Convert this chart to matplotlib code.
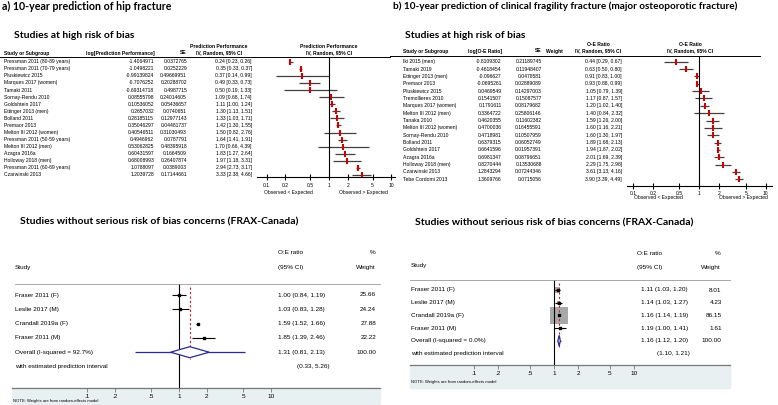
import matplotlib
matplotlib.use('Agg')
import numpy as np
import matplotlib.pyplot as plt
from matplotlib.lines import Line2D
from matplotlib.patches import Rectangle, Polygon

# ---- a) hip fracture, studies at high risk of bias (RevMan)
hip_names = ['Pressman 2011 (80-89 years)', 'Pressman 2011 (70-79 years)', 'Pluskiewicz 2015',
             'Marques 2017 (women)', 'Tamaki 2011', 'Sornay-Rendu 2010', 'Goldshtein 2017',
             'Ettinger 2013 (men)', 'Bolland 2011', 'Premaor 2013', 'Melton III 2012 (women)',
             'Pressman 2011 (50-59 years)', 'Melton III 2012 (men)', 'Azagra 2016a',
             'Holloway 2018 (men)', 'Pressman 2011 (60-69 years)', 'Czarwinski 2013']
hip_log = [-1.4064971, -1.0498221, -0.99139824, -0.7076252, -0.69314718, 0.08555798, 0.10536052,
           0.2657032, 0.28185115, 0.35046297, 0.40546511, 0.4946962, 0.53062825, 0.60431597,
           0.68008993, 1.0788097, 1.2039728]
hip_se = [0.0372765, 0.0252229, 0.49669951, 0.20288702, 0.4987715, 0.24014605, 0.05436657,
          0.0740651, 0.12977143, 0.04481737, 0.31030493, 0.0787791, 0.48395918, 0.1664509,
          0.26407874, 0.0389003, 0.17144661]
hip_est = [0.24, 0.35, 0.37, 0.49, 0.50, 1.09, 1.11, 1.30, 1.33, 1.42, 1.50, 1.64, 1.70, 1.83, 1.97, 2.94, 3.33]
hip_lo = [0.23, 0.33, 0.14, 0.33, 0.19, 0.68, 1.00, 1.13, 1.03, 1.30, 0.82, 1.41, 0.66, 1.27, 1.18, 2.73, 2.38]
hip_hi = [0.26, 0.37, 0.99, 0.73, 1.33, 1.74, 1.24, 1.51, 1.71, 1.55, 2.76, 1.91, 4.39, 2.64, 3.31, 3.17, 4.66]

# ---- b) major osteoporotic fracture, studies at high risk of bias (RevMan)
mof_names = ['Iki 2015 (men)', 'Tamaki 2019', 'Ettinger 2013 (men)', 'Premaor 2013', 'Pluskiewicz 2015',
             'Tremollieres 2010', 'Marques 2017 (women)', 'Melton III 2012 (men)', 'Tanaka 2010',
             'Melton III 2012 (women)', 'Sornay-Rendu 2010', 'Bolland 2011', 'Goldshtein 2017',
             'Azagra 2016a', 'Holloway 2018 (men)', 'Czarwinski 2013', 'Tebe Cordomi 2013']
mof_log = [-0.8109302, -0.4618454, -0.096627, -0.0695261, 0.0469549, 0.1541507, 0.1791611, 0.3364722,
           0.4620355, 0.4700036, 0.4718981, 0.6379315, 0.6641596, 0.6981347, 0.8270444, 1.2843294, 1.3609766]
mof_se = [0.21189745, 0.11948407, 0.0478581, 0.02889089, 0.14297003, 0.15087577, 0.08179682, 0.25806146,
          0.11602382, 0.16455591, 0.10507959, 0.06052749, 0.01957391, 0.08796651, 0.13530688,
          0.07244346, 0.0715056]
mof_est = [0.44, 0.63, 0.91, 0.93, 1.05, 1.17, 1.20, 1.40, 1.59, 1.60, 1.60, 1.89, 1.94, 2.01, 2.29, 3.61, 3.90]
mof_lo = [0.29, 0.50, 0.83, 0.88, 0.79, 0.87, 1.02, 0.84, 1.26, 1.16, 1.30, 1.68, 1.87, 1.69, 1.75, 3.13, 3.39]
mof_hi = [0.67, 0.80, 1.00, 0.99, 1.39, 1.57, 1.40, 2.32, 2.00, 2.21, 1.97, 2.13, 2.02, 2.39, 2.98, 4.16, 4.49]

# ---- FRAX-Canada (Stata metan)
ca_names = ['Fraser 2011 (F)', 'Leslie 2017 (M)', 'Crandall 2019a (F)', 'Fraser 2011 (M)']
ca_hip_est = [1.00, 1.03, 1.59, 1.85]
ca_hip_lo = [0.84, 0.83, 1.52, 1.39]
ca_hip_hi = [1.19, 1.28, 1.66, 2.46]
ca_hip_wt = [25.66, 24.24, 27.88, 22.22]
ca_hip_overall = [1.31, 0.81, 2.13]
ca_hip_pi = [0.33, 5.26]
ca_hip_i2 = 92.7

ca_mof_est = [1.11, 1.14, 1.16, 1.19]
ca_mof_lo = [1.03, 1.03, 1.14, 1.00]
ca_mof_hi = [1.20, 1.27, 1.19, 1.41]
ca_mof_wt = [8.01, 4.23, 86.15, 1.61]
ca_mof_overall = [1.16, 1.12, 1.20]
ca_mof_pi = [1.10, 1.21]
ca_mof_i2 = 0.0

ticks = [0.1, 0.2, 0.5, 1, 2, 5, 10]

W, H = 778, 405
fig = plt.figure(figsize=(W / 100, H / 100), dpi=100)
SANS = ['Liberation Sans', 'DejaVu Sans']
TITLE = ['Lato', 'DejaVu Sans']


def fx(x):
    return x / W


def fy(y):
    return 1 - y / H


def txt(x, y, s, size=3.6, ha='left', weight='normal', family=SANS, color='black'):
    fig.text(fx(x), fy(y), s, fontsize=size, ha=ha, va='center', fontweight=weight,
             family=family, color=color)


def hline(x0, x1, y, color='black', lw=0.7):
    fig.add_artist(Line2D([fx(x0), fx(x1)], [fy(y), fy(y)], transform=fig.transFigure,
                          color=color, lw=lw))


def log_axes(x0, x1, y0, y1, x_one, decade):
    ax = fig.add_axes([fx(x0), fy(y1), (x1 - x0) / W, (y1 - y0) / H])
    ax.set_xscale('log')
    ax.set_xlim(10 ** ((x0 - x_one) / decade), 10 ** ((x1 - x_one) / decade))
    ax.set_ylim(y1, y0)
    ax.patch.set_alpha(0)
    for s in ['top', 'left', 'right']:
        ax.spines[s].set_visible(False)
    ax.set_yticks([])
    ax.minorticks_off()
    ax.set_xticks(ticks)
    return ax


def revman(cols, rows, names, logs, ses, est, lo, hi, fa):
    x_name, x_log, x_se, x_ci = cols
    y0, step = rows
    for i in range(len(names)):
        y = y0 + i * step
        txt(x_name, y, names[i])
        txt(x_log, y, str(logs[i]), ha='right')
        txt(x_se, y, str(ses[i]), ha='right')
        txt(x_ci, y, f'{est[i]:.2f} [{lo[i]:.2f}, {hi[i]:.2f}]', ha='right')
    x0, x1, x_one, decade, y_top, y_axis, obs_y, obs_l, obs_r = fa
    ax = log_axes(x0, x1, y_top, y_axis, x_one, decade)
    ys = y0 + np.arange(len(names)) * step
    ax.hlines(ys, lo, hi, color='#404040', lw=0.9)
    ax.plot(est, ys, ls='none', marker='|', ms=4.5, mew=1.5, color='#d10000')
    ax.axvline(1, color='black', lw=0.8)
    ax.spines['bottom'].set_linewidth(0.8)
    ax.tick_params(axis='x', direction='inout', length=4, width=0.8, labelsize=3.6, pad=2)
    ax.set_xticklabels([f'{t:g}' for t in ticks], family=SANS)
    txt(obs_l, obs_y, 'Observed < Expected', ha='center')
    txt(obs_r, obs_y, 'Observed > Expected', ha='center')


def stata(rows, names, est, lo, hi, wt, overall, pi, i2, cols, fa, boxes):
    y0, step = rows
    x_name, x_oe, x_wt, x_pi = cols
    x0, x1, x_one, decade, y_top, y_axis, band_bot, note_y, dash = fa
    ax = log_axes(x0, x1, y_top, y_axis, x_one, decade)
    ys = y0 + np.arange(len(names)) * step
    for i in range(len(names)):
        txt(x_name, ys[i], names[i], size=4.6)
        txt(x_oe, ys[i], f'{est[i]:.2f} ({lo[i]:.2f}, {hi[i]:.2f})', size=4.6)
        txt(x_wt, ys[i], f'{wt[i]:.2f}', size=4.6, ha='right')
    yo = y0 + len(names) * step
    yp = yo + step
    txt(x_name, yo, f'Overall (I-squared = {i2:.1f}%)', size=4.6)
    txt(x_oe, yo, f'{overall[0]:.2f} ({overall[1]:.2f}, {overall[2]:.2f})', size=4.6)
    txt(x_wt, yo, '100.00', size=4.6, ha='right')
    txt(x_name, yp, 'with estimated prediction interval', size=4.6)
    txt(x_pi, yp, f'({pi[0]:.2f}, {pi[1]:.2f})', size=4.6)
    if boxes:
        side = 17.5 * np.sqrt(np.array(wt) / max(wt)) * 0.72
        ax.scatter(est, ys, s=side ** 2, marker='s', color='#a8a8a8', zorder=1, linewidths=0)
    ax.hlines(ys, lo, hi, color='black', lw=0.8, zorder=2)
    ax.plot(est, ys, ls='none', marker='s', ms=2.0, color='black', zorder=3)
    ax.axvline(1, color='black', lw=0.8)
    ax.plot([overall[0], overall[0]], [dash[0], dash[1]], color='#d62020', lw=0.8, ls=(0, (2, 2)))
    ax.hlines(yo, pi[0], pi[1], color='#2a2a90', lw=0.9)
    ax.add_patch(Polygon([(overall[1], yo), (overall[0], yo - 5.5), (overall[2], yo),
                          (overall[0], yo + 5.5)], closed=True, fc='white', ec='#2a2a90', lw=0.9,
                         zorder=4))
    ax.spines['bottom'].set_color('#777777')
    ax.spines['bottom'].set_linewidth(0.9)
    ax.tick_params(axis='x', direction='out', length=3, width=0.6, color='#777777',
                   labelsize=4.6, pad=1.5)
    ax.set_xticklabels([f'{t:g}'.lstrip('0') for t in ticks], family=SANS)
    fig.add_artist(Rectangle((fx(x0), fy(band_bot)), (x1 - x0) / W, (band_bot - y_axis) / H,
                             transform=fig.transFigure, color='#e8f0f2', zorder=-5))
    txt(x0 + 1, note_y, 'NOTE: Weights are from random-effects model', size=3.0)


# ---------------- panel a
txt(2, 6, 'a) 10-year prediction of hip fracture', size=7.7, weight='bold', family=TITLE)
txt(14, 35, 'Studies at high risk of bias', size=7.5, weight='bold', family=TITLE)
txt(219, 47, 'Prediction Performance', weight='bold', ha='center')
txt(329, 47, 'Prediction Performance', weight='bold', ha='center')
txt(4, 53, 'Study or Subgroup', weight='bold')
txt(155, 53, 'log[Prediction Performance]', weight='bold', ha='right')
txt(187, 53, 'SE', weight='bold', ha='right')
txt(219, 53, 'IV, Random, 95% CI', weight='bold', ha='center')
txt(329, 53, 'IV, Random, 95% CI', weight='bold', ha='center')
hline(0, 390, 57)
revman((4, 154, 187, 252), (61.7, 7.08), hip_names, hip_log, hip_se, hip_est, hip_lo, hip_hi,
       (256.7, 395, 329, 62.3, 57, 177.3, 192.3, 288, 363))

txt(20, 222, 'Studies without serious risk of bias concerns (FRAX-Canada)', size=7.5,
    weight='bold', family=TITLE)
txt(15, 267, 'Study', size=4.6)
txt(278, 253, 'O:E ratio', size=4.6)
txt(278, 267, '(95% CI)', size=4.6)
txt(376, 253, '%', size=4.6, ha='right')
txt(376, 267, 'Weight', size=4.6, ha='right')
hline(15, 380, 284, color='#999999', lw=0.6)
stata((295, 14.3), ca_names, ca_hip_est, ca_hip_lo, ca_hip_hi, ca_hip_wt, ca_hip_overall,
      ca_hip_pi, ca_hip_i2, (15, 278, 376, 296.7),
      (12, 380, 179, 92, 284, 388, 404, 401, (287, 359)), False)

# ---------------- panel b
txt(393, 6, 'b) 10-year prediction of clinical fragility fracture (major osteoporotic fracture)',
    size=7.2, weight='bold', family=TITLE)
txt(405, 36, 'Studies at high risk of bias', size=7.5, weight='bold', family=TITLE)
txt(598, 44, 'O-E Ratio', weight='bold', ha='center')
txt(690, 44, 'O-E Ratio', weight='bold', ha='center')
txt(403, 51, 'Study or Subgroup', weight='bold')
txt(502, 51, 'log[O-E Ratio]', weight='bold', ha='right')
txt(541.7, 51, 'SE', weight='bold', ha='right')
txt(546, 51, 'Weight', weight='bold')
txt(598, 51, 'IV, Random, 95% CI', weight='bold', ha='center')
txt(690, 51, 'IV, Random, 95% CI', weight='bold', ha='center')
hline(390, 760, 56)
revman((403, 501.7, 541.7, 622), (61.7, 7.35), mof_names, mof_log, mof_se, mof_est, mof_lo, mof_hi,
       (626.7, 771.7, 699.3, 66.5, 56, 185.7, 197.7, 658, 743))

txt(415, 223, 'Studies without serious risk of bias concerns (FRAX-Canada)', size=7.5,
    weight='bold', family=TITLE)
txt(411, 265.7, 'Study', size=4.6)
txt(637, 253.3, 'O:E ratio', size=4.6)
txt(637, 267.3, '(95% CI)', size=4.6)
txt(720.7, 253.3, '%', size=4.6, ha='right')
txt(720.7, 267.3, 'Weight', size=4.6, ha='right')
hline(410, 730, 280, color='#999999', lw=0.6)
stata((290, 12.7), ca_names, ca_mof_est, ca_mof_lo, ca_mof_hi, ca_mof_wt, ca_mof_overall,
      ca_mof_pi, ca_mof_i2, (411, 640.7, 721.7, 656.7),
      (410, 730, 554, 80, 280, 365, 388, 381.7, (283, 347)), True)

fig.savefig('out.png', dpi=100)
